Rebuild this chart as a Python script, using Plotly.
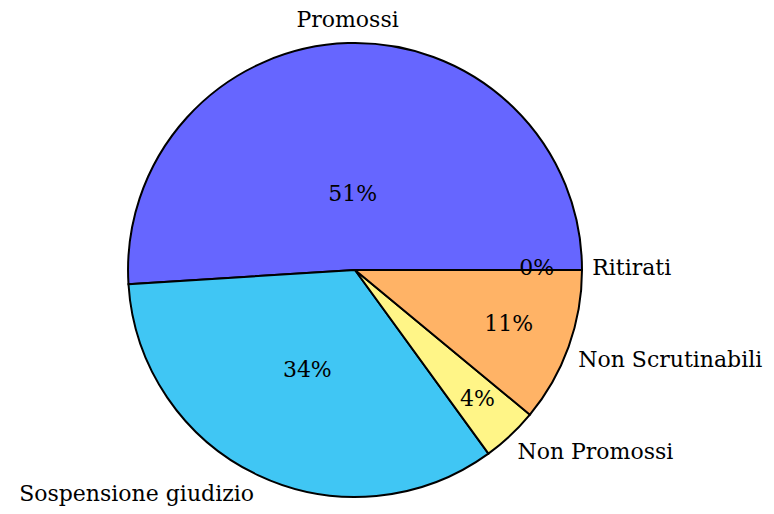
import plotly.graph_objects as go

labels = ["Promossi", "Sospensione giudizio", "Non Promossi", "Non Scrutinabili", "Ritirati"]
values = [51, 34, 4, 11, 0]
colors = ["#6666ff", "#40c6f4", "#fff587", "#ffb366", "#66cc66"]
label_pos = ["top center", "bottom left", "bottom right", "bottom right", "middle right"]

FONT = "DejaVu Serif"
FS = 22
R_LABEL = 1.045
R_MAX = 1.06

# slice geometry derived from the data (counterclockwise from 3 o'clock)
total = sum(values)
spans = [360.0 * v / total for v in values]
starts = [sum(spans[:i]) for i in range(len(spans))]
mids = [s + w / 2 for s, w in zip(starts, spans)]
pct_text = [f"{round(100 * v / total)}%" for v in values]
# pgf-pie rule for where the number sits inside a slice
pct_r = [(max(min((w - 10) / 110 * -0.3, 0), -0.5) + 0.8) for w in spans]

fig = go.Figure()
fig.add_trace(go.Barpolar(
    r=[1] * len(values), theta=mids, width=spans, base=0,
    marker=dict(color=colors, line=dict(color="black", width=2)),
    hoverinfo="skip", showlegend=False,
))
fig.add_trace(go.Scatterpolar(
    r=pct_r, theta=mids, mode="text", text=pct_text,
    textposition="middle center",
    textfont=dict(family=FONT, size=FS, color="black"),
    cliponaxis=False, hoverinfo="skip", showlegend=False,
))
fig.add_trace(go.Scatterpolar(
    r=[R_LABEL] * len(values), theta=mids, mode="text", text=labels,
    textposition=label_pos,
    textfont=dict(family=FONT, size=FS, color="black"),
    cliponaxis=False, hoverinfo="skip", showlegend=False,
))
fig.update_layout(
    width=774, height=514, margin=dict(l=0, r=0, t=0, b=0),
    paper_bgcolor="white",
    polar=dict(
        domain=dict(x=[0.1375, 0.7592], y=[0.0222, 0.9584]),
        bgcolor="rgba(0,0,0,0)",
        angularaxis=dict(rotation=0, direction="counterclockwise", visible=False,
                         showgrid=False, showline=False, ticks=""),
        radialaxis=dict(range=[0, R_MAX], visible=False, showgrid=False, showline=False),
    ),
)
fig.write_html("out.html")
